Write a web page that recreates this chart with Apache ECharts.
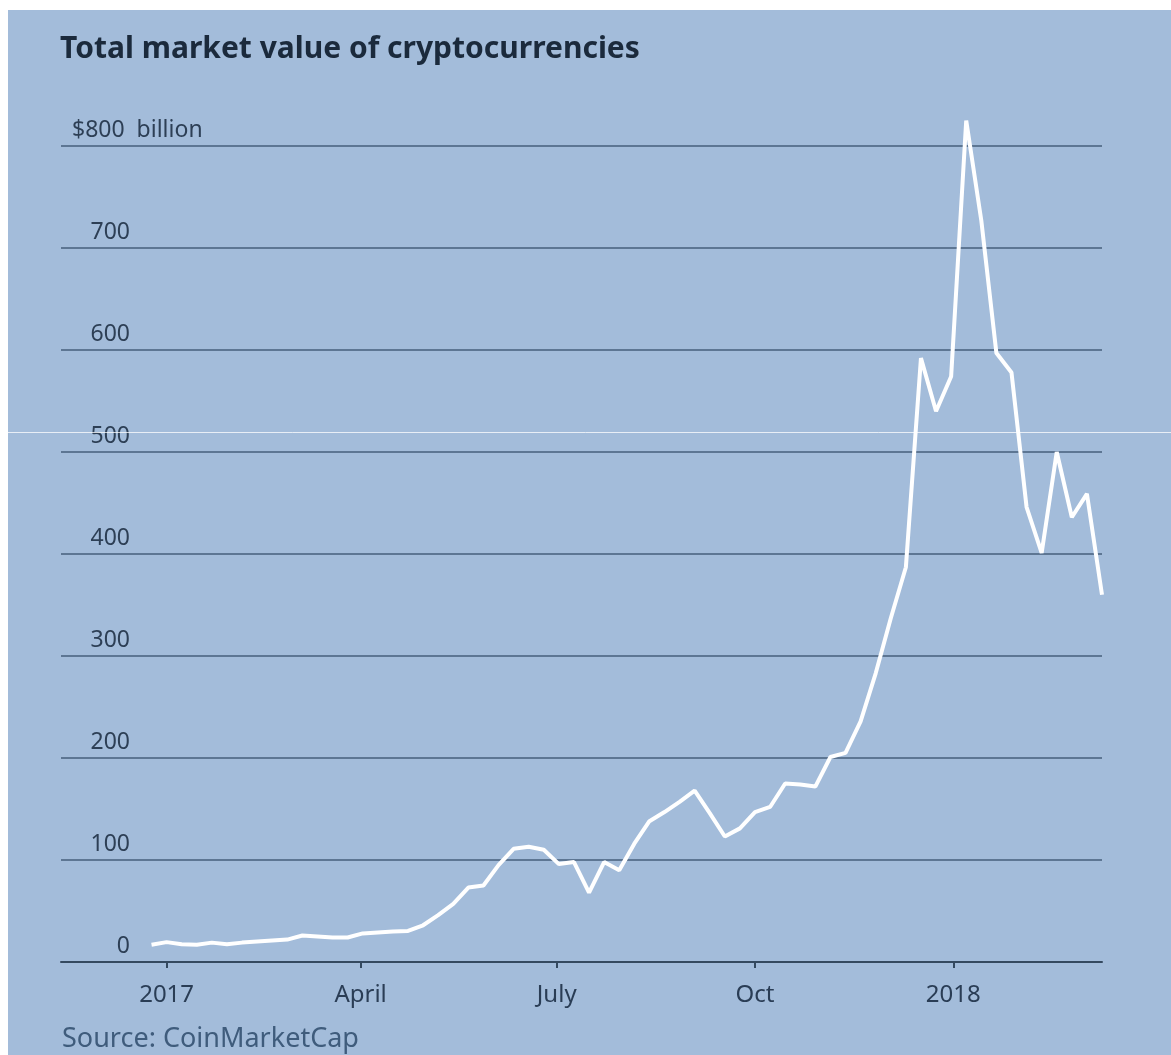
<!DOCTYPE html>
<html>
<head>
<meta charset="utf-8">
<script src="https://cdn.jsdelivr.net/npm/echarts@6/dist/echarts.min.js"></script>
<style>
  html, body { margin: 0; padding: 0; background: #ffffff; }
  #chart { width: 1171px; height: 1055px; }
</style>
</head>
<body>
<div id="chart"></div>
<script>
// Weekly observations (date, total market value in $ billion)
const dates = [
  '2016-12-25','2017-01-01','2017-01-08','2017-01-15','2017-01-22','2017-01-29','2017-02-05','2017-02-12',
  '2017-02-19','2017-02-26','2017-03-05','2017-03-12','2017-03-19','2017-03-26','2017-04-02','2017-04-09',
  '2017-04-16','2017-04-23','2017-04-30','2017-05-07','2017-05-14','2017-05-21','2017-05-28','2017-06-04',
  '2017-06-11','2017-06-18','2017-06-25','2017-07-02','2017-07-09','2017-07-16','2017-07-23','2017-07-30',
  '2017-08-06','2017-08-13','2017-08-20','2017-08-27','2017-09-03','2017-09-10','2017-09-17','2017-09-24',
  '2017-10-01','2017-10-08','2017-10-15','2017-10-22','2017-10-29','2017-11-05','2017-11-12','2017-11-19',
  '2017-11-26','2017-12-03','2017-12-10','2017-12-17','2017-12-24','2017-12-31','2018-01-07','2018-01-14',
  '2018-01-21','2018-01-28','2018-02-04','2018-02-11','2018-02-18','2018-02-25','2018-03-04','2018-03-11'
];
const values = [
  17, 19.5, 17.5, 17, 19, 17.5, 19, 20,
  21, 22, 26, 25, 24, 24, 28, 29,
  30, 30.5, 36, 46, 57, 73, 75, 95,
  111, 113, 110, 96, 98, 68, 98, 90,
  116, 138, 147, 157, 168, 146, 123, 131,
  147, 152, 175, 174, 172, 201, 205, 236,
  283, 337, 387, 592, 540, 574, 825, 727,
  597, 578, 446, 401, 500, 436, 459, 360
];
const xTickDates = ['2017-01-01', '2017-04-01', '2017-07-01', '2017-10-01', '2018-01-01'];
const xTickLabels = ['2017', 'April', 'July', 'Oct', '2018'];
const yTicks = [0, 100, 200, 300, 400, 500, 600, 700, 800];
const xRange = ['2016-11-13', '2018-03-11'];

const ts = d => Date.parse(d + 'T00:00:00Z');
const seriesData = dates.map((d, i) => [ts(d), values[i]]);
const xTickTs = xTickDates.map(ts);

const chart = echarts.init(document.getElementById('chart'));
const FONT = '"Noto Sans", "Open Sans", sans-serif';
const LABEL_COLOR = '#2d3f55';
chart.setOption({
  backgroundColor: '#ffffff',
  animation: false,
  graphic: [
    { type: 'rect', z: -10, silent: true, shape: { x: 8, y: 10, width: 1171, height: 1055 }, style: { fill: '#a3bcda' } },
    { type: 'line', z: 100, silent: true, shape: { x1: 0, y1: 432.5, x2: 1171, y2: 432.5 }, style: { stroke: 'rgba(255,255,255,0.75)', lineWidth: 1 } },
    { type: 'text', left: 62, top: 1026, silent: true, style: { text: 'Source: CoinMarketCap', fontFamily: FONT, fontSize: 27, fill: '#3f5c7c' } }
  ],
  title: {
    text: 'Total market value of cryptocurrencies',
    left: 55, top: 29,
    textStyle: { fontFamily: FONT, fontSize: 30, fontWeight: 'bold', color: '#1b2a3c' }
  },
  grid: { left: 61, right: 69, top: 146, bottom: 93 },
  xAxis: {
    type: 'value',
    min: ts(xRange[0]), max: ts(xRange[1]),
    axisLine: { show: true, lineStyle: { color: '#34495f', width: 2 } },
    axisTick: { show: true, customValues: xTickTs, length: 6, lineStyle: { color: '#34495f', width: 2 } },
    splitLine: { show: false },
    axisLabel: {
      customValues: xTickTs,
      margin: 21,
      fontFamily: FONT, fontSize: 24, color: '#2a3d55',
      formatter: v => { const i = xTickTs.indexOf(v); return i >= 0 ? xTickLabels[i] : ''; }
    }
  },
  yAxis: {
    type: 'value',
    min: 0, max: 800, interval: 100,
    axisLine: { show: false },
    axisTick: { show: false },
    splitLine: { show: true, lineStyle: { color: '#5d7693', width: 2 } },
    axisLabel: {
      inside: true,
      margin: 11,
      align: 'left',
      verticalAlign: 'bottom',
      padding: [0, 0, 4, 0],
      fontFamily: FONT, fontSize: 23, color: LABEL_COLOR,
      formatter: v => (v === yTicks[yTicks.length - 1]) ? '{m|$' + v + '  billion}' : '{n|' + v + '}',
      rich: {
        n: { width: 58, align: 'right', fontFamily: FONT, fontSize: 23, color: LABEL_COLOR },
        m: { fontFamily: FONT, fontSize: 23, color: LABEL_COLOR }
      }
    }
  },
  series: [{
    type: 'line',
    data: seriesData,
    clip: false,
    showSymbol: false,
    symbol: 'none',
    lineStyle: { color: '#ffffff', width: 4 },
    z: 5
  }]
});
</script>
</body>
</html>
